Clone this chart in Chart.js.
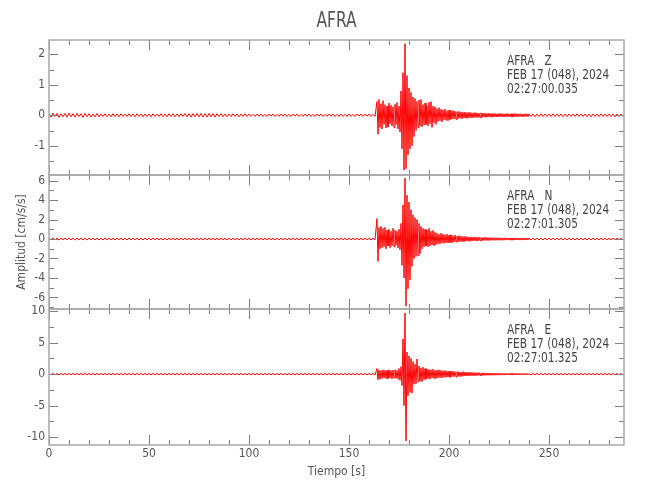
<!DOCTYPE html>
<html><head><meta charset="utf-8">
<script src="https://cdn.jsdelivr.net/npm/chart.js@4.4.1/dist/chart.umd.min.js"></script>
<style>
html,body{margin:0;padding:0;background:#fff;}
#wrap{position:relative;width:650px;height:500px;}
#wrap canvas{position:absolute;left:0;top:0;}
</style></head><body>
<div id="wrap">
<canvas id="cZ" width="650" height="500"></canvas>
<canvas id="cN" width="650" height="500"></canvas>
<canvas id="cE" width="650" height="500"></canvas>
</div>
<script>
// ---------------- data ----------------
const stationName = 'AFRA';
const channelNames = ['Z', 'N', 'E'];
const dateLabel = 'FEB 17 (048), 2024';
const startTimes = ['02:27:00.035', '02:27:01.305', '02:27:01.325'];
const xTitle = 'Tiempo [s]';
const yTitle = 'Amplitud [cm/s/s]';

const xTickLabels = [0, 50, 100, 150, 200, 250];
const xMinorTicks = [0,10,20,30,40,50,60,70,80,90,100,110,120,130,140,150,160,170,180,190,200,210,220,230,240,250,260,270,280];

const zTickLabels = [-1, 0, 1, 2];
const zMinorTicks = [-1.5, -0.5, 0.5, 1.5];
const nTickLabels = [-6, -4, -2, 0, 2, 4, 6];
const nMinorTicks = [-7, -5, -3, -1, 1, 3, 5];
const eTickLabels = [-10, -5, 0, 5, 10];
const eMinorTicks = [-7.5, -2.5, 2.5, 7.5];

// sample time segments [start, end, step] in seconds
const sampleSegments = [[0, 163, 1], [164, 239.5, 0.5], [240, 287, 1]];

const zValues = [
 0.05,-0.06,0.07,-0.04,0.06,-0.07,0.05,-0.05,0.06,-0.06,
 0.07,-0.05,0.05,-0.06,0.06,-0.04,0.05,-0.07,0.06,-0.05,
 0.05,-0.06,0.04,-0.05,0.06,-0.05,0.04,-0.04,0.05,-0.05,
 0.04,-0.05,0.05,-0.04,0.04,-0.05,0.05,-0.04,0.04,-0.04,
 0.05,-0.04,0.04,-0.05,0.05,-0.04,0.04,-0.05,0.04,-0.04,
 0.04,-0.05,0.05,-0.04,0.04,-0.04,0.05,-0.05,0.04,-0.05,
 0.05,-0.04,0.05,-0.05,0.04,-0.05,0.05,-0.04,0.06,-0.05,
 0.05,-0.06,0.05,-0.05,0.06,-0.05,0.06,-0.06,0.05,-0.06,
 0.06,-0.05,0.05,-0.06,0.05,-0.04,0.05,-0.05,0.04,-0.05,
 0.04,-0.04,0.05,-0.04,0.04,-0.05,0.04,-0.04,0.05,-0.04,
 0.04,-0.04,0.03,-0.04,0.04,-0.03,0.04,-0.04,0.03,-0.04,
 0.04,-0.03,0.04,-0.04,0.03,-0.04,0.04,-0.03,0.04,-0.04,
 0.03,-0.04,0.04,-0.03,0.04,-0.04,0.03,-0.04,0.04,-0.03,
 0.04,-0.04,0.03,-0.04,0.04,-0.03,0.04,-0.04,0.03,-0.04,
 0.04,-0.03,0.04,-0.04,0.03,-0.04,0.04,-0.04,0.03,-0.04,
 0.04,-0.04,0.03,-0.04,0.04,-0.03,0.04,-0.04,0.04,-0.03,
 0.04,-0.04,0.03,-0.04,
 // 164 - 239.5 s (0.5 s)
 0.45,-0.62,0.52,-0.40,0.38,-0.45,0.48,-0.30,0.35,-0.42,
 0.30,-0.38,0.40,-0.28,0.33,-0.35,0.28,-0.40,0.36,-0.30,
 0.42,-0.45,0.30,-0.55,0.80,-1.10,1.40,-1.80,2.35,-1.75,
 1.30,-1.30,0.90,-1.10,0.75,-1.00,0.60,-0.70,0.55,-0.50,
 0.45,-0.40,0.50,-0.35,0.52,-0.38,0.35,-0.32,0.40,-0.30,
 0.30,-0.35,0.42,-0.28,0.45,-0.40,0.30,-0.25,0.28,-0.30,
 0.22,-0.20,0.25,-0.18,0.20,-0.22,0.18,-0.15,0.20,-0.17,
 0.15,-0.18,0.17,-0.14,0.15,-0.13,0.16,-0.12,0.13,-0.14,
 0.12,-0.11,0.13,-0.10,0.11,-0.12,0.10,-0.09,0.11,-0.10,
 0.09,-0.10,0.10,-0.08,0.09,-0.09,0.08,-0.08,0.09,-0.07,
 0.08,-0.08,0.07,-0.08,0.08,-0.07,0.07,-0.06,0.07,-0.07,
 0.06,-0.06,0.07,-0.06,0.06,-0.07,0.06,-0.05,0.06,-0.06,
 0.05,-0.06,0.06,-0.05,0.06,-0.05,0.05,-0.06,0.05,-0.05,
 0.06,-0.05,0.05,-0.05,0.05,-0.06,0.05,-0.05,0.06,-0.05,
 0.05,-0.05,0.05,-0.04,0.05,-0.05,0.04,-0.05,0.05,-0.04,
 0.05,-0.05,
 // 240 - 287 s
 0.05,-0.04,0.04,-0.05,0.04,-0.04,0.05,-0.04,0.04,-0.04,
 0.04,-0.04,0.05,-0.04,0.04,-0.04,0.04,-0.05,0.04,-0.04,
 0.04,-0.04,0.04,-0.04,0.05,-0.04,0.04,-0.04,0.04,-0.04,
 0.04,-0.05,0.04,-0.04,0.04,-0.04,0.05,-0.04,0.04,-0.04,
 0.04,-0.04,0.04,-0.05,0.04,-0.04,0.04,-0.04
];

const nValues = [
 0.10,-0.08,0.12,-0.10,0.09,-0.11,0.10,-0.08,0.11,-0.09,
 0.12,-0.10,0.09,-0.12,0.10,-0.09,0.11,-0.10,0.08,-0.11,
 0.10,-0.09,0.11,-0.10,0.09,-0.10,0.08,-0.09,0.10,-0.08,
 0.09,-0.10,0.08,-0.09,0.10,-0.08,0.09,-0.09,0.08,-0.10,
 0.10,-0.09,0.11,-0.08,0.09,-0.10,0.08,-0.09,0.10,-0.08,
 0.08,-0.09,0.10,-0.08,0.09,-0.08,0.08,-0.09,0.07,-0.08,
 0.08,-0.07,0.08,-0.08,0.07,-0.08,0.08,-0.07,0.08,-0.07,
 0.07,-0.08,0.07,-0.07,0.08,-0.07,0.07,-0.08,0.07,-0.07,
 0.08,-0.07,0.07,-0.08,0.07,-0.07,0.08,-0.07,0.07,-0.08,
 0.07,-0.07,0.08,-0.07,0.07,-0.08,0.07,-0.07,0.08,-0.07,
 0.07,-0.08,0.07,-0.07,0.08,-0.07,0.07,-0.08,0.07,-0.07,
 0.08,-0.07,0.07,-0.08,0.07,-0.07,0.08,-0.07,0.07,-0.08,
 0.07,-0.07,0.08,-0.07,0.07,-0.08,0.07,-0.07,0.08,-0.07,
 0.07,-0.08,0.07,-0.07,0.08,-0.07,0.07,-0.08,0.07,-0.07,
 0.08,-0.07,0.07,-0.08,0.07,-0.07,0.08,-0.07,0.07,-0.08,
 0.07,-0.07,0.08,-0.07,0.07,-0.08,0.07,-0.07,0.08,-0.07,
 0.07,-0.08,0.07,-0.07,
 // 164 - 239.5 s (0.5 s)
 2.10,-2.30,1.20,-1.00,1.30,-0.90,1.10,-0.80,1.20,-1.00,
 0.90,-0.70,1.00,-0.90,0.80,-0.70,1.10,-0.80,0.90,-0.60,
 0.80,-0.90,1.00,-1.10,1.60,-2.70,3.50,-4.00,6.25,-6.90,
 4.50,-5.10,3.80,-4.20,3.00,-2.80,2.50,-2.00,2.20,-1.80,
 2.00,-1.70,1.60,-1.50,1.30,-1.00,1.10,-0.80,1.00,-0.70,
 0.90,-0.80,1.10,-0.70,0.80,-0.60,0.90,-0.70,0.70,-0.60,
 0.60,-0.50,0.50,-0.50,0.60,-0.40,0.50,-0.45,0.45,-0.40,
 0.50,-0.40,0.40,-0.35,0.45,-0.40,0.35,-0.30,0.40,-0.30,
 0.30,-0.30,0.35,-0.25,0.30,-0.28,0.25,-0.30,0.28,-0.22,
 0.25,-0.22,0.20,-0.25,0.22,-0.20,0.20,-0.18,0.22,-0.20,
 0.18,-0.20,0.20,-0.16,0.17,-0.18,0.16,-0.15,0.18,-0.15,
 0.15,-0.16,0.14,-0.15,0.15,-0.13,0.14,-0.14,0.13,-0.14,
 0.13,-0.12,0.14,-0.13,0.12,-0.13,0.12,-0.12,0.13,-0.11,
 0.12,-0.11,0.12,-0.12,0.11,-0.12,0.11,-0.11,0.12,-0.10,
 0.11,-0.10,0.11,-0.11,0.10,-0.11,0.10,-0.10,0.11,-0.10,
 0.10,-0.10,
 // 240 - 287 s
 0.10,-0.09,0.10,-0.10,0.09,-0.10,0.09,-0.09,0.10,-0.09,
 0.09,-0.09,0.10,-0.09,0.09,-0.08,0.09,-0.09,0.08,-0.09,
 0.09,-0.08,0.08,-0.09,0.08,-0.08,0.09,-0.08,0.08,-0.08,
 0.08,-0.08,0.09,-0.08,0.08,-0.08,0.08,-0.07,0.08,-0.08,
 0.07,-0.08,0.08,-0.07,0.08,-0.07,0.07,-0.08
];

const eValues = [
 0.12,-0.10,0.11,-0.12,0.10,-0.11,0.12,-0.10,0.11,-0.10,
 0.10,-0.12,0.11,-0.10,0.12,-0.11,0.10,-0.11,0.12,-0.10,
 0.11,-0.10,0.10,-0.11,0.11,-0.10,0.12,-0.10,0.10,-0.11,
 0.10,-0.11,0.12,-0.10,0.11,-0.10,0.10,-0.12,0.11,-0.10,
 0.11,-0.10,0.10,-0.11,0.12,-0.10,0.11,-0.11,0.10,-0.10,
 0.10,-0.11,0.11,-0.10,0.10,-0.10,0.11,-0.10,0.10,-0.11,
 0.11,-0.10,0.10,-0.10,0.11,-0.11,0.10,-0.10,0.11,-0.10,
 0.10,-0.10,0.11,-0.10,0.10,-0.11,0.10,-0.10,0.11,-0.10,
 0.10,-0.11,0.10,-0.10,0.11,-0.10,0.10,-0.11,0.10,-0.10,
 0.11,-0.10,0.10,-0.10,0.10,-0.11,0.11,-0.10,0.10,-0.10,
 0.10,-0.10,0.11,-0.10,0.10,-0.10,0.10,-0.11,0.10,-0.10,
 0.10,-0.11,0.10,-0.10,0.11,-0.10,0.10,-0.10,0.10,-0.11,
 0.11,-0.10,0.10,-0.10,0.10,-0.11,0.10,-0.10,0.11,-0.10,
 0.10,-0.10,0.11,-0.10,0.10,-0.10,0.10,-0.11,0.10,-0.10,
 0.10,-0.11,0.10,-0.10,0.11,-0.10,0.10,-0.10,0.11,-0.10,
 0.10,-0.10,0.11,-0.10,0.10,-0.11,0.10,-0.10,0.10,-0.11,
 0.11,-0.10,0.10,-0.12,
 // 164 - 239.5 s (0.5 s)
 0.90,-0.90,0.70,-0.80,0.60,-0.70,0.70,-0.60,0.65,-0.70,
 0.60,-0.70,0.70,-0.60,0.60,-0.75,0.65,-0.60,0.70,-0.65,
 0.60,-0.80,0.90,-1.00,1.20,-1.80,5.60,-5.00,9.70,-10.60,
 3.50,-3.40,2.90,-2.90,2.50,-3.00,2.00,-1.60,1.60,-1.50,
 2.40,-1.20,1.30,-1.10,1.00,-1.20,1.10,-0.90,0.90,-0.80,
 0.80,-0.70,0.75,-0.80,0.70,-0.60,0.80,-0.70,0.60,-0.70,
 0.65,-0.60,0.70,-0.55,0.60,-0.60,0.55,-0.50,0.60,-0.50,
 0.50,-0.45,0.50,-0.50,0.45,-0.40,0.50,-0.40,0.40,-0.45,
 0.40,-0.35,0.40,-0.40,0.35,-0.35,0.40,-0.30,0.35,-0.30,
 0.30,-0.30,0.32,-0.28,0.30,-0.25,0.28,-0.28,0.25,-0.25,
 0.25,-0.22,0.25,-0.22,0.20,-0.22,0.22,-0.20,0.20,-0.20,
 0.20,-0.18,0.20,-0.18,0.18,-0.18,0.17,-0.18,0.18,-0.16,
 0.16,-0.17,0.16,-0.15,0.17,-0.15,0.15,-0.16,0.15,-0.14,
 0.15,-0.14,0.14,-0.14,0.15,-0.13,0.13,-0.14,0.14,-0.13,
 0.13,-0.13,0.14,-0.12,0.13,-0.12,0.12,-0.13,0.12,-0.12,
 0.12,-0.12,
 // 240 - 287 s
 0.11,-0.12,0.11,-0.11,0.12,-0.11,0.11,-0.10,0.11,-0.11,
 0.10,-0.11,0.11,-0.10,0.10,-0.11,0.10,-0.10,0.11,-0.10,
 0.10,-0.10,0.11,-0.10,0.10,-0.10,0.10,-0.11,0.10,-0.10,
 0.10,-0.10,0.10,-0.11,0.10,-0.10,0.10,-0.10,0.11,-0.10,
 0.10,-0.10,0.10,-0.10,0.11,-0.10,0.10,-0.10
];

// ---------------- rendering ----------------
const FONT = '"DejaVu Sans Condensed", "Liberation Sans Narrow", sans-serif';
const TEXT = '#555555';

const sampleTimes = [];
sampleSegments.forEach(([a, b, s]) => { for (let t = a; t <= b + 1e-9; t += s) sampleTimes.push(Math.round(t * 100) / 100); });

function toPoints(vals) {
  const n = Math.min(vals.length, sampleTimes.length);
  const pts = [];
  for (let i = 0; i < n; i++) pts.push({ x: sampleTimes[i], y: vals[i] });
  return pts;
}

function squeezedText(ctx, txt, x, y, sx) {
  ctx.save();
  ctx.translate(x, y);
  ctx.scale(sx, 1);
  ctx.fillText(txt, 0, 0);
  ctx.restore();
}

const framePlugin = {
  id: 'frame',
  afterDatasetsDraw(chart, args, opts) {
    const { ctx, chartArea: a } = chart;
    const x = chart.scales.x, y = chart.scales.y;
    ctx.save();
    ctx.lineWidth = 1;
    ctx.strokeStyle = '#808080';
    const seg = (x1, y1, x2, y2) => { ctx.beginPath(); ctx.moveTo(x1, y1); ctx.lineTo(x2, y2); ctx.stroke(); };
    xMinorTicks.forEach(v => {
      const px = Math.round(x.getPixelForValue(v)) + 0.5;
      const L = xTickLabels.includes(v) ? 10 : 5;
      seg(px, a.top, px, a.top + L);
      seg(px, a.bottom, px, a.bottom - L);
    });
    const yt = (v, L) => {
      const py = Math.round(y.getPixelForValue(v)) + 0.5;
      seg(a.left, py, a.left + L, py);
      seg(a.right, py, a.right - L, py);
    };
    opts.major.forEach(v => yt(v, 9));
    opts.minor.forEach(v => yt(v, 5));
    ctx.lineWidth = 1.5;
    ctx.strokeStyle = '#a8a8a8';
    ctx.strokeRect(Math.round(a.left), Math.round(a.top), Math.round(a.right - a.left), Math.round(a.bottom - a.top));
    // station annotation
    ctx.fillStyle = '#444444';
    ctx.font = '14px ' + FONT;
    ctx.textBaseline = 'middle';
    ctx.textAlign = 'left';
    const tx = a.left + 458;
    squeezedText(ctx, stationName + '   ' + opts.channel, tx, a.top + 21.5, 0.84);
    squeezedText(ctx, dateLabel, tx, a.top + 35.5, 0.84);
    squeezedText(ctx, opts.start, tx, a.top + 49.5, 0.84);
    if (opts.title) {
      ctx.fillStyle = TEXT;
      ctx.font = '22px ' + FONT;
      ctx.textAlign = 'center';
      squeezedText(ctx, opts.title, (a.left + a.right) / 2, 21, 0.78);
    }
    ctx.restore();
  }
};

function makeChart(id, values, yMin, yMax, majors, minors, idx, padTop, padBottom) {
  const isBottom = idx === 2, isMiddle = idx === 1;
  return new Chart(document.getElementById(id), {
    type: 'line',
    data: {
      datasets: [{
        data: toPoints(values),
        borderColor: '#ff0000',
        borderWidth: 1,
        pointRadius: 0,
        fill: false,
        tension: 0
      }]
    },
    options: {
      responsive: false,
      animation: false,
      events: [],
      layout: { padding: { top: padTop, bottom: padBottom, left: 0, right: 26 } },
      plugins: {
        legend: { display: false },
        tooltip: { enabled: false },
        frame: { major: majors, minor: minors, channel: channelNames[idx], start: startTimes[idx], title: idx === 0 ? stationName : null }
      },
      scales: {
        x: {
          type: 'linear', min: 0, max: 287.5,
          afterBuildTicks: s => { s.ticks = xTickLabels.map(v => ({ value: v })); },
          afterFit: s => { s.height = isBottom ? 55 : 0; },
          grid: { display: false, drawTicks: false },
          border: { display: false },
          ticks: { display: isBottom, color: TEXT, font: { family: FONT, size: 12 }, padding: 2, maxRotation: 0, autoSkip: false },
          title: { display: isBottom, text: xTitle, color: TEXT, font: { family: FONT, size: 12 }, padding: { top: 0, bottom: 21 } }
        },
        y: {
          type: 'linear', min: yMin, max: yMax,
          afterBuildTicks: s => { s.ticks = majors.map(v => ({ value: v })); },
          afterFit: s => { s.width = 49; },
          grid: { display: false, drawTicks: false },
          border: { display: false },
          ticks: { color: TEXT, font: { family: FONT, size: 12 }, padding: 4, autoSkip: false },
          title: { display: isMiddle, text: yTitle, color: TEXT, font: { family: FONT, size: 12 }, padding: { top: 15, bottom: 0 } }
        }
      }
    },
    plugins: [framePlugin]
  });
}

makeChart('cZ', zValues, -1.96, 2.47, zTickLabels, zMinorTicks, 0, 40, 325);
makeChart('cN', nValues, -7.19, 6.58, nTickLabels, nMinorTicks, 1, 175, 191);
makeChart('cE', eValues, -11.25, 10.35, eTickLabels, eMinorTicks, 2, 309, 0);
</script>
</body></html>
